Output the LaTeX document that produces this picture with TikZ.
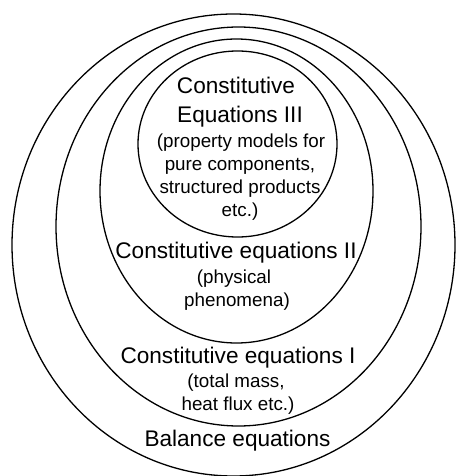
\documentclass[tikz,border=0pt]{standalone}
\usepackage{fontspec}
\setmainfont{Liberation Sans}
\begin{document}
\begin{tikzpicture}[x=1pt,y=-1pt,
  ring/.style={draw=black,line width=1.3pt},
  big/.style={inner sep=0pt,anchor=base,font=\fontsize{22.6}{29}\selectfont},
  small/.style={inner sep=0pt,anchor=base,font=\fontsize{18.8}{23.3}\selectfont}]
\useasboundingbox (0,0) rectangle (455,476);
% nested ellipses
\draw[ring] (233.5,245) ellipse [x radius=221.5pt, y radius=231pt];
\draw[ring] (238.5,226.5) ellipse [x radius=182.5pt, y radius=199.5pt];
\draw[ring] (236.5,191) ellipse [x radius=136.5pt, y radius=152pt];
\draw[ring] (237.5,144) ellipse [x radius=99.5pt, y radius=93pt];
% innermost
\node[big] (c3a) at (236,93.5) {Constitutive};
\node[big] (c3b) at (240,122) {Equations III};
\node[small] (c3c) at (241,147) {(property models for};
\node[small] (c3d) at (240,170) {pure components,};
\node[small] (c3e) at (240,193.5) {structured products};
\node[small] (c3f) at (240,216.5) {etc.)};
% second
\node[big] (c2a) at (236,258) {Constitutive equations II};
\node[small] (c2b) at (234,283.5) {(physical};
\node[small] (c2c) at (237,306) {phenomena)};
% first
\node[big] (c1a) at (238,363.5) {Constitutive equations I};
\node[small] (c1b) at (236,387.5) {(total mass,};
\node[small] (c1c) at (238,410.5) {heat flux etc.)};
% outer
\node[big] (bal) at (237.5,446) {Balance equations};
\end{tikzpicture}
\end{document}
